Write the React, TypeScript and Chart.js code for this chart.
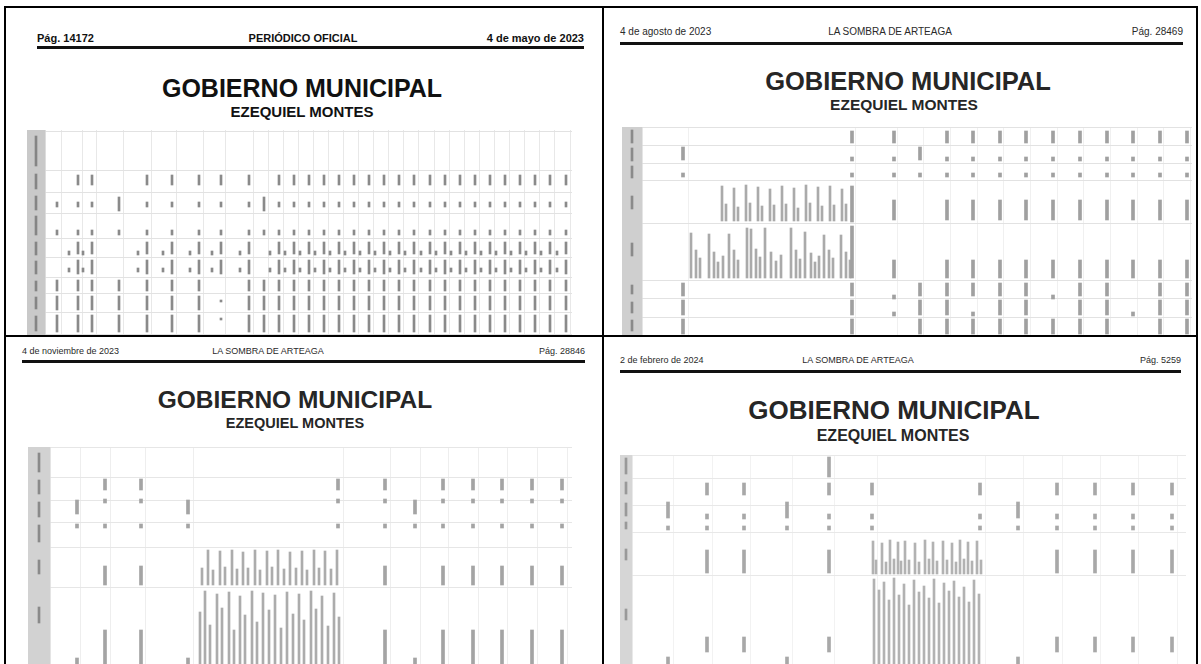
import { useEffect, useRef } from "react";
import { Chart, registerables } from "chart.js";
Chart.register(...registerables);

type Span = [number, number];
type Box = [number, number, number, number];
interface MarkGroup { xs: number[]; span: Span }
interface Block { xs: number[]; tops: number[]; bottom: number }

const TITLE = "GOBIERNO MUNICIPAL";
const SUBTITLE = "EZEQUIEL MONTES";

const q1Header = ["Pág. 14172", "PERIÓDICO OFICIAL", "4 de mayo de 2023"];
const q2Header = ["4 de agosto de 2023", "LA SOMBRA DE ARTEAGA", "Pág. 28469"];
const q3Header = ["4 de noviembre de 2023", "LA SOMBRA DE ARTEAGA", "Pág. 28846"];
const q4Header = ["2 de febrero de 2024", "LA SOMBRA DE ARTEAGA", "Pág. 5259"];

// ---------- page 1 (top-left) ----------
const q1Box: Box = [27, 130, 572, 335];
const q1Cols = [45, 61, 82, 96, 123, 151, 176, 203, 225, 253, 268, 283, 298, 313, 328, 343, 358, 373, 388, 403, 418, 434, 449, 464, 479, 494, 509, 524, 539, 554, 570];
const q1Rows = [131, 170, 192, 213, 238, 257, 277, 293, 312, 334];
const q1X = [57, 78, 92, 119, 147, 172, 199, 221, 249, 264, 279, 294, 309, 324, 339, 354, 369, 384, 399, 414, 430, 445, 460, 475, 490, 505, 520, 535, 550, 566];
const q1Empty = [57, 119, 264];
const q1Tall = [119, 264];
const q1Short = [221];
const q1SideX = [69, 83, 138, 163, 190, 212, 240, 270, 285, 300, 315, 330, 345, 360, 375, 390, 405, 421, 436, 451, 466, 481, 496, 511, 526, 541, 557];
const q1Filled = q1X.filter((x) => !q1Empty.includes(x));
const q1NotShort = q1X.filter((x) => !q1Short.includes(x));
const q1Marks: MarkGroup[] = [
  { span: [175, 185], xs: q1Filled },
  { span: [202, 207], xs: q1X.filter((x) => !q1Tall.includes(x)) },
  { span: [197, 211], xs: q1Tall },
  { span: [230, 235], xs: q1X },
  { span: [242, 254], xs: q1Filled },
  { span: [251, 255], xs: q1SideX },
  { span: [260, 274], xs: q1Filled },
  { span: [268, 272], xs: q1SideX },
  { span: [280, 291], xs: q1NotShort },
  { span: [296, 310], xs: q1NotShort },
  { span: [300, 302], xs: q1Short },
  { span: [315, 332], xs: q1NotShort },
  { span: [318, 320], xs: q1Short },
];
const q1ShadeText: Span[] = [[136, 166], [174, 189], [196, 210], [216, 235], [242, 255], [261, 274], [281, 291], [297, 309], [316, 331]];

// ---------- page 2 (top-right) ----------
const q2Box: Box = [622, 127, 1192, 336];
const q2Cols = [642, 688, 855, 897, 923, 950, 977, 1003, 1030, 1057, 1083, 1110, 1137, 1163, 1190];
const q2Rows = [127, 145, 163, 180, 223, 280, 298, 317, 336];
const q2X = [947, 973, 1000, 1026, 1053, 1080, 1107, 1133, 1160, 1187];
const q2Marks: MarkGroup[] = [
  { span: [131, 143], xs: [852, 894, ...q2X] },
  { span: [147, 160], xs: [683, 920] },
  { span: [157, 161], xs: [852, 894, ...q2X] },
  { span: [173, 177], xs: [683, 852, 894, 920, ...q2X] },
  { span: [200, 220], xs: [894, ...q2X] },
  { span: [186, 222], xs: [852] },
  { span: [226, 278], xs: [852] },
  { span: [260, 278], xs: [894, ...q2X] },
  { span: [283, 296], xs: [683, 852, 920, 947, 973, 1000, 1026, 1080, 1107, 1160, 1187] },
  { span: [295, 299], xs: [894, 1053] },
  { span: [300, 315], xs: [683, 852, 920, 947, 1000, 1026, 1080, 1107, 1160, 1187] },
  { span: [312, 316], xs: [894, 973, 1133] },
  { span: [319, 334], xs: [683, 852, 920, 947, 973, 1000, 1026, 1053, 1080, 1107, 1160, 1187] },
];
const q2Blocks: Block[] = [
  { xs: [722, 734, 746, 758, 770, 782, 794, 806, 818, 830, 842], tops: [186, 188, 185, 187, 189, 186, 188, 185, 187, 186, 189], bottom: 221 },
  { xs: [726, 738, 750, 762, 774, 786, 798, 810, 822, 834, 846], tops: [204, 207, 203, 206, 205, 204, 208, 203, 206, 205, 204], bottom: 221 },
  { xs: [691, 709, 729, 747, 751, 765, 791, 805, 824, 841], tops: [233, 234, 234, 228, 229, 228, 228, 232, 235, 235], bottom: 278 },
  { xs: [696, 700, 714, 718, 723, 734, 738, 756, 760, 771, 776, 781, 796, 800, 811, 815, 819, 829, 833, 846, 850], tops: [250, 258, 252, 262, 256, 250, 260, 249, 257, 252, 261, 255, 250, 259, 253, 262, 256, 250, 258, 252, 260], bottom: 278 },
];
const q2ShadeText: Span[] = [[130, 143], [148, 161], [166, 178], [196, 209], [243, 256], [285, 294], [302, 313], [320, 331]];

// ---------- page 3 (bottom-left) ----------
const q3Box: Box = [28, 447, 572, 664];
const q3Cols = [50, 80, 110, 145, 193, 343, 390, 420, 448, 478, 507, 537, 567];
const q3Rows = [447, 477, 500, 522, 547, 587, 664];
const q3X = [385, 443, 473, 502, 532, 562];
const q3Marks: MarkGroup[] = [
  { span: [479, 490], xs: [105, 141, 338, ...q3X] },
  { span: [500, 514], xs: [77, 188, 415] },
  { span: [499, 503], xs: [105, 141, 338, ...q3X] },
  { span: [524, 528], xs: [77, 105, 141, 188, 338, 415, ...q3X] },
  { span: [566, 585], xs: [105, 141, ...q3X] },
  { span: [630, 664], xs: [105, 141, ...q3X] },
  { span: [658, 664], xs: [77, 188, 415] },
];
const q3Blocks: Block[] = [
  { xs: [208, 220, 232, 243, 255, 267, 278, 290, 302, 314, 325, 337], tops: [550, 551, 550, 552, 550, 551, 550, 552, 551, 550, 551, 550], bottom: 585 },
  { xs: [202, 213, 225, 237, 248, 260, 272, 284, 296, 307, 319, 331], tops: [568, 570, 567, 569, 568, 570, 567, 569, 568, 570, 568, 569], bottom: 585 },
  { xs: [205, 217, 229, 240, 252, 263, 275, 287, 299, 311, 322, 334], tops: [591, 594, 592, 596, 591, 593, 595, 592, 594, 591, 596, 593], bottom: 664 },
  { xs: [200, 210, 222, 234, 245, 257, 269, 281, 293, 304, 316, 328, 339], tops: [612, 625, 608, 630, 615, 622, 610, 628, 614, 620, 609, 626, 617], bottom: 664 },
];
const q3ShadeText: Span[] = [[453, 472], [480, 494], [502, 517], [525, 542], [560, 574], [607, 623]];

// ---------- page 4 (bottom-right) ----------
const q4Box: Box = [620, 455, 1186, 664];
const q4Cols = [632, 673, 712, 750, 792, 834, 877, 985, 1023, 1062, 1100, 1138, 1177];
const q4Rows = [455, 478, 505, 532, 575, 664];
const q4X = [1057, 1095, 1133, 1172];
const q4Marks: MarkGroup[] = [
  { span: [457, 477], xs: [829] },
  { span: [483, 495], xs: [707, 744, 829, 872, 980, ...q4X] },
  { span: [502, 518], xs: [668, 787, 1018] },
  { span: [514, 519], xs: [707, 744, 829, 872, 980, ...q4X] },
  { span: [526, 530], xs: [668, 707, 744, 787, 829, 872, 980, 1018, ...q4X] },
  { span: [550, 573], xs: [707, 744, 829, ...q4X] },
  { span: [637, 652], xs: [707, 744, 829, ...q4X] },
  { span: [657, 664], xs: [668, 787, 1018] },
];
const q4Blocks: Block[] = [
  { xs: [873, 882, 890, 898, 905, 915, 925, 933, 943, 952, 960, 968, 977], tops: [541, 543, 540, 542, 541, 543, 540, 542, 541, 543, 540, 542, 541], bottom: 574 },
  { xs: [876, 886, 894, 901, 909, 919, 929, 937, 947, 956, 964, 972, 981], tops: [560, 562, 559, 561, 560, 562, 559, 561, 560, 562, 559, 561, 560], bottom: 574 },
  { xs: [874, 879, 884, 889, 894, 899, 904, 909, 914, 919, 924, 929, 934, 939, 944, 949, 954, 959, 964, 969, 974, 979], tops: [579, 590, 582, 600, 578, 595, 584, 605, 580, 592, 586, 598, 579, 603, 583, 591, 581, 597, 587, 602, 580, 594], bottom: 664 },
];
const q4ShadeText: Span[] = [[458, 474], [482, 494], [503, 516], [522, 529], [549, 560], [609, 620]];

interface TableCfg {
  box: Box;
  cols: number[];
  rows: number[];
  shadeX: number;
  shadeW: number;
  shadeColor: string;
  shadeText: Span[];
  shadeTextColor: string;
  marks: MarkGroup[];
  blocks: Block[];
  markColor: string;
  markW: number;
  blockColor: string;
  gridX: string;
  gridY: string;
}

function TableChart({ cfg }: { cfg: TableCfg }) {
  const ref = useRef<HTMLCanvasElement>(null);
  const [x0, y0, x1, y1] = cfg.box;
  const w = x1 - x0;
  const h = y1 - y0;
  useEffect(() => {
    const markData = cfg.marks.flatMap((m) => m.xs.map((x) => ({ x, y: m.span })));
    const blockData = cfg.blocks.flatMap((b) => b.xs.map((x, i) => ({ x, y: [b.tops[i], b.bottom] })));
    const chart = new Chart(ref.current as HTMLCanvasElement, {
      type: "bar",
      data: {
        datasets: [
          { data: [{ x: cfg.shadeX, y: [y0, y1] }] as any, backgroundColor: cfg.shadeColor, barThickness: cfg.shadeW, grouped: false, order: 3 } as any,
          { data: cfg.shadeText.map((s) => ({ x: cfg.shadeX, y: s })) as any, backgroundColor: cfg.shadeTextColor, barThickness: 2, grouped: false, order: 2 } as any,
          { data: blockData as any, backgroundColor: cfg.blockColor, barThickness: 2, grouped: false, order: 1 } as any,
          { data: markData as any, backgroundColor: cfg.markColor, barThickness: cfg.markW, grouped: false, order: 0 } as any,
        ],
      },
      options: {
        animation: false,
        responsive: false,
        maintainAspectRatio: false,
        layout: { padding: 0 },
        plugins: { legend: { display: false }, tooltip: { enabled: false } },
        scales: {
          x: {
            type: "linear",
            min: x0,
            max: x1,
            offset: false,
            grid: { color: cfg.gridX, drawTicks: false, offset: false },
            border: { display: false },
            ticks: { display: false },
            afterBuildTicks: (axis: any) => {
              axis.ticks = cfg.cols.map((v) => ({ value: v }));
            },
          },
          y: {
            type: "linear",
            reverse: true,
            min: y0,
            max: y1,
            grid: { color: cfg.gridY, drawTicks: false },
            border: { display: false },
            ticks: { display: false },
            afterBuildTicks: (axis: any) => {
              axis.ticks = cfg.rows.map((v) => ({ value: v }));
            },
          },
        },
      } as any,
    });
    return () => chart.destroy();
  }, []);
  return (
    <canvas
      ref={ref}
      width={w}
      height={h}
      style={{ position: "absolute", left: x0, top: y0, width: w, height: h }}
    />
  );
}

interface PageCfg {
  header: string[];
  headerTop: number;
  headerSize: number;
  headerBold: boolean;
  left: number;
  center: number;
  right: number;
  ruleTop: number;
  titleX: number;
  titleTop: number;
  titleSize: number;
  subX: number;
  subTop: number;
  subSize: number;
  headColor: string;
  titleColor: string;
}

function PageText({ p }: { p: PageCfg }) {
  const f = '"Liberation Sans", Arial, sans-serif';
  const hs: any = {
    position: "absolute",
    top: p.headerTop,
    fontSize: p.headerSize,
    fontWeight: p.headerBold ? 700 : 400,
    lineHeight: 1,
    whiteSpace: "nowrap",
    color: p.headColor,
    fontFamily: f,
  };
  const ts: any = {
    position: "absolute",
    fontWeight: 700,
    lineHeight: 1,
    whiteSpace: "nowrap",
    color: p.titleColor,
    fontFamily: f,
    transform: "translateX(-50%)",
  };
  return (
    <>
      <span style={{ ...hs, left: p.left }}>{p.header[0]}</span>
      <span style={{ ...hs, left: p.center, transform: "translateX(-50%)" }}>{p.header[1]}</span>
      <span style={{ ...hs, right: 1201 - p.right }}>{p.header[2]}</span>
      <div style={{ position: "absolute", left: p.left, top: p.ruleTop, width: p.right - p.left, height: 3, background: "#111" }} />
      <span style={{ ...ts, left: p.titleX, top: p.titleTop, fontSize: p.titleSize }}>{TITLE}</span>
      <span style={{ ...ts, left: p.subX, top: p.subTop, fontSize: p.subSize }}>{SUBTITLE}</span>
    </>
  );
}

const pages: PageCfg[] = [
  { header: q1Header, headerTop: 33, headerSize: 11, headerBold: true, left: 37, center: 303, right: 584, ruleTop: 46, titleX: 302, titleTop: 76, titleSize: 25, subX: 302, subTop: 104, subSize: 15, headColor: "#111", titleColor: "#111" },
  { header: q2Header, headerTop: 27, headerSize: 10, headerBold: false, left: 620, center: 890, right: 1183, ruleTop: 42, titleX: 908, titleTop: 69, titleSize: 25.5, subX: 904, subTop: 97, subSize: 15.5, headColor: "#2a2a2a", titleColor: "#262626" },
  { header: q3Header, headerTop: 347, headerSize: 9, headerBold: false, left: 22, center: 268, right: 585, ruleTop: 360, titleX: 295, titleTop: 388, titleSize: 24.5, subX: 295, subTop: 416, subSize: 14.5, headColor: "#2a2a2a", titleColor: "#262626" },
  { header: q4Header, headerTop: 356, headerSize: 9, headerBold: false, left: 620, center: 858, right: 1181, ruleTop: 370, titleX: 894, titleTop: 397, titleSize: 26, subX: 893, subTop: 428, subSize: 16, headColor: "#2a2a2a", titleColor: "#262626" },
];

const tables: TableCfg[] = [
  { box: q1Box, cols: q1Cols, rows: q1Rows, shadeX: 36, shadeW: 18, shadeColor: "#c9c9c9", shadeText: q1ShadeText, shadeTextColor: "#858585", marks: q1Marks, blocks: [], markColor: "#8a8a8a", markW: 2, blockColor: "#888", gridX: "#e8e8e8", gridY: "#e2e2e2" },
  { box: q2Box, cols: q2Cols, rows: q2Rows, shadeX: 632, shadeW: 20, shadeColor: "#cfcfcf", shadeText: q2ShadeText, shadeTextColor: "#8a8a8a", marks: q2Marks, blocks: q2Blocks, markColor: "#a0a0a0", markW: 3, blockColor: "#aaaaaa", gridX: "#f0f0f0", gridY: "#e2e2e2" },
  { box: q3Box, cols: q3Cols, rows: q3Rows, shadeX: 39, shadeW: 22, shadeColor: "#d2d2d2", shadeText: q3ShadeText, shadeTextColor: "#8a8a8a", marks: q3Marks, blocks: q3Blocks, markColor: "#a4a4a4", markW: 3, blockColor: "#acacac", gridX: "#eeeeee", gridY: "#e6e6e6" },
  { box: q4Box, cols: q4Cols, rows: q4Rows, shadeX: 626, shadeW: 12, shadeColor: "#d6d6d6", shadeText: q4ShadeText, shadeTextColor: "#999999", marks: q4Marks, blocks: q4Blocks, markColor: "#a8a8a8", markW: 3, blockColor: "#b2b2b2", gridX: "#f2f2f2", gridY: "#e8e8e8" },
];

export default function App() {
  const line = (l: number, t: number, w: number, h: number) => (
    <div style={{ position: "absolute", left: l, top: t, width: w, height: h, background: "#000" }} />
  );
  return (
    <div style={{ position: "fixed", left: 0, top: 0, width: 1201, height: 664, background: "#fff", overflow: "hidden" }}>
      {tables.map((t, i) => (
        <TableChart key={i} cfg={t} />
      ))}
      {pages.map((p, i) => (
        <PageText key={i} p={p} />
      ))}
      {line(4, 6, 1194, 2)}
      {line(4, 6, 2, 658)}
      {line(1196, 6, 2, 658)}
      {line(602, 6, 2, 658)}
      {line(4, 335, 1194, 2)}
    </div>
  );
}
